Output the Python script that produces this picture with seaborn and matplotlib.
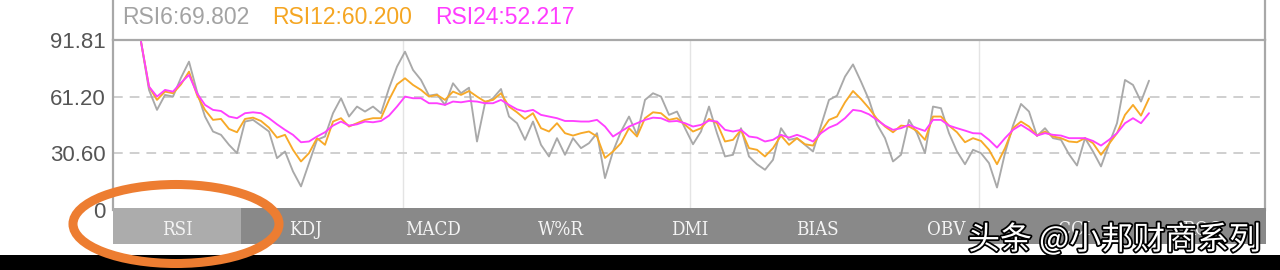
import numpy as np
import pandas as pd
import matplotlib
matplotlib.use("Agg")
import matplotlib.pyplot as plt
import matplotlib.patheffects as pe
from matplotlib.patches import Ellipse, Rectangle
from matplotlib.lines import Line2D
import seaborn as sns

# ---------------- data ----------------
rsi6 = [90.9, 64.8, 54.0, 62.1, 61.2, 71.4, 80.1, 63.9, 50.4, 42.3, 40.5, 35.1, 30.6, 47.7, 48.6, 45.5, 42.3, 27.9, 31.5, 20.7, 12.6,
        25.2, 37.8, 39.6, 52.2, 60.3, 50.4, 55.8, 53.1, 55.8, 52.2, 65.7, 77.4, 85.5, 75.6, 70.2, 61.7, 62.4, 56.7, 68.4, 63.0, 66.0, 36.9,
        57.6, 60.3, 65.3, 50.4, 46.8, 37.8, 47.7, 35.1, 28.8, 38.7, 29.7, 38.7, 33.3, 36.0, 41.4, 17.1, 31.5, 42.3, 50.4, 40.5, 59.4,
        63.0, 61.2, 51.3, 53.1, 44.1, 35.4, 42.3, 55.8, 41.4, 28.8, 29.7, 44.1, 28.8, 24.6, 21.6, 27.0, 44.1, 37.8, 38.7, 35.1, 31.5,
        45.5, 59.4, 61.7, 72.0, 78.6, 69.3, 59.4, 46.2, 38.7, 26.1, 29.7, 48.6, 41.4, 30.6, 55.8, 54.9, 41.4, 31.5, 24.6, 32.4, 30.6,
        25.2, 12.0, 30.6, 45.5, 57.2, 53.1, 39.9, 44.1, 38.7, 37.8, 30.0, 23.9, 38.7, 31.5, 23.4, 35.4, 46.8, 70.2, 67.5, 58.5, 69.802]
rsi12 = [90.9, 66.6, 59.4, 63.9, 63.0, 67.8, 74.7, 62.1, 54.0, 48.6, 49.1, 43.7, 41.9, 49.1, 49.8, 48.0, 44.4, 39.0, 40.5, 32.4, 26.1,
         30.6, 38.7, 35.1, 47.7, 49.5, 45.0, 46.8, 48.6, 49.5, 49.5, 59.4, 67.8, 71.1, 67.5, 64.8, 61.2, 62.1, 59.4, 63.9, 62.1, 64.2, 61.2,
         58.5, 59.4, 63.0, 55.8, 52.7, 49.1, 52.2, 44.1, 42.3, 46.8, 41.4, 40.1, 41.4, 42.3, 39.6, 28.0, 31.5, 36.0, 44.1, 39.6, 49.5,
         52.7, 52.2, 48.6, 49.5, 45.9, 42.3, 44.1, 49.1, 46.8, 36.9, 37.8, 43.2, 33.3, 32.4, 28.8, 33.3, 40.1, 35.1, 38.7, 35.4, 34.7,
         42.3, 48.6, 50.4, 58.1, 64.2, 59.9, 54.9, 49.1, 45.0, 41.9, 45.5, 45.0, 42.6, 37.8, 50.4, 50.4, 45.5, 41.9, 36.5, 38.7, 37.2,
         32.4, 24.6, 33.3, 44.1, 47.7, 45.0, 40.1, 42.3, 39.6, 38.7, 36.9, 36.5, 38.7, 36.0, 29.7, 35.6, 41.4, 51.3, 56.7, 50.9, 60.200]
rsi24 = [90.9, 66.6, 61.2, 64.8, 63.9, 68.7, 72.9, 63.0, 56.7, 54.0, 53.4, 50.4, 49.5, 52.2, 52.7, 52.2, 49.5, 46.2, 43.2, 40.5, 36.5,
         36.9, 39.6, 41.9, 45.5, 47.7, 45.5, 46.2, 47.7, 47.3, 48.0, 50.9, 55.8, 61.2, 60.3, 60.3, 57.6, 57.6, 56.7, 58.5, 58.1, 58.8, 58.5,
         57.6, 57.6, 59.4, 56.7, 54.3, 53.1, 54.0, 51.3, 50.4, 49.5, 48.0, 48.0, 47.7, 47.7, 48.6, 45.0, 39.6, 42.3, 45.0, 46.8, 48.6,
         49.8, 49.5, 47.7, 48.0, 46.8, 45.0, 45.9, 48.2, 47.7, 43.2, 42.3, 43.2, 39.6, 39.0, 36.9, 37.8, 40.5, 39.0, 40.5, 39.0, 36.9,
         41.4, 44.4, 46.2, 49.5, 54.0, 53.4, 51.6, 48.6, 45.5, 43.2, 44.1, 45.9, 44.1, 42.6, 48.6, 48.6, 45.5, 44.1, 42.8, 41.4, 41.2,
         37.8, 33.6, 38.7, 43.2, 45.9, 43.2, 40.1, 41.4, 40.5, 40.1, 38.7, 38.7, 38.7, 37.2, 34.7, 37.8, 41.4, 46.8, 49.5, 46.8, 52.217]

series_names = ["RSI6", "RSI12", "RSI24"]
legend_labels = ["RSI6:69.802", "RSI12:60.200", "RSI24:52.217"]
ytick_values = [0, 30.60, 61.20, 91.81]
ytick_labels = ["0", "30.60", "61.20", "91.81"]
tabs = ["RSI", "KDJ", "MACD", "W%R", "DMI", "BIAS", "OBV", "CCI", "ROC"]
watermark = "头条 @小邦财商系列"

# ---------------- style ----------------
W, H = 1280, 270
sns.set_theme(style="white")
plt.rcParams["font.family"] = ["Liberation Sans", "DejaVu Sans"]

line_colors = {"RSI6": "#a9a9a9", "RSI12": "#f7a928", "RSI24": "#ff40ff"}
legend_colors = ["#a3a3a3", "#f5a623", "#ff3cff"]
frame_color = "#a8a8a8"


def fx(px):
    return px / W


def fy(py):
    return 1 - py / H


fig = plt.figure(figsize=(W / 100, H / 100), dpi=100)
fig.patch.set_facecolor("white")

# main plot axes
ax = fig.add_axes([fx(113), fy(209.7), fx(1265) - fx(113), fy(40) - fy(209.7)])
df = pd.concat(
    [pd.DataFrame({"idx": np.arange(len(v)), "value": v, "series": n})
     for n, v in zip(series_names, [rsi6, rsi12, rsi24])],
    ignore_index=True,
)
for vx in [32.7, 68.6, 104.7]:
    ax.axvline(vx, color="#e4e4e4", lw=1.0, zorder=0)
for hy in [30.60, 61.20]:
    ax.axhline(hy, color="#cfcfcf", lw=1.4, dashes=(5.0, 3.6), zorder=0)

sns.lineplot(data=df, x="idx", y="value", hue="series", hue_order=series_names,
             palette=line_colors, linewidth=1.35, legend=False, ax=ax, sort=False)
ax.set_xlim(-3.5, 140.5)
ax.set_ylim(0, 91.81)
ax.set_xlabel("")
ax.set_ylabel("")
ax.set_xticks([])
ax.set_yticks(ytick_values)
ax.set_yticklabels(ytick_labels)
ax.tick_params(axis="y", length=0, pad=5.5, labelsize=16, labelcolor="#555555")
for side in ["left", "top", "right"]:
    ax.spines[side].set_visible(True)
    ax.spines[side].set_color(frame_color)
    ax.spines[side].set_linewidth(1.6)
ax.spines["bottom"].set_visible(False)

# frame continuing up around the legend strip
for xp in [113, 1265]:
    fig.add_artist(Line2D([fx(xp), fx(xp)], [fy(40), 1.0], transform=fig.transFigure,
                          color=frame_color, lw=1.6))

# legend texts
for xp, lab, col in zip([122, 272, 435], legend_labels, legend_colors):
    fig.text(fx(xp), fy(18), lab, color=col, fontsize=16.5, ha="left", va="center")

# tab bar
tab_ax = fig.add_axes([fx(113), fy(244), fx(1266) - fx(113), fy(208.3) - fy(244)])
tab_colors = ["#acacac"] + ["#898989"] * (len(tabs) - 1)
tab_ax.bar(np.arange(len(tabs)), 1, width=1, align="edge", color=tab_colors, linewidth=0)
tab_ax.set_xlim(0, len(tabs))
tab_ax.set_ylim(0, 1)
tab_ax.axis("off")
for i, t in enumerate(tabs):
    tab_ax.text(i + 0.5, 0.40, t, ha="center", va="center", color="#f4f4f4",
                fontsize=13.5, family="DejaVu Serif", fontstretch="condensed")

# black band at bottom
fig.add_artist(Rectangle((0, 0), 1, fy(255), transform=fig.transFigure,
                         facecolor="black", edgecolor="none", zorder=5))

# orange annotation ellipse
fig.add_artist(Ellipse((fx(176), fy(224)), width=206 / W, height=79 / H,
                       transform=fig.transFigure, fill=False,
                       edgecolor="#ed7d31", linewidth=6.5, zorder=10))

# watermark
fig.text(fx(968), fy(240), watermark, family=["Noto Sans CJK SC", "DejaVu Sans"],
         fontsize=23, color="white", weight="medium", ha="left", va="center", zorder=20,
         path_effects=[pe.withStroke(linewidth=2.5, foreground="black")])

fig.savefig("out.png", dpi=100, facecolor="white")
